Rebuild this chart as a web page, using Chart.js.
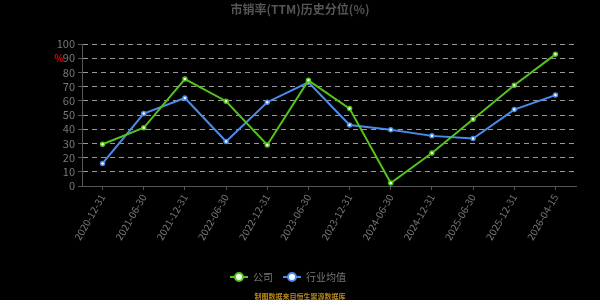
<!DOCTYPE html>
<html>
<head>
<meta charset="utf-8">
<script src="https://cdn.jsdelivr.net/npm/chart.js@4/dist/chart.umd.min.js"></script>
<style>
  html, body { margin: 0; padding: 0; background: #000; }
  #wrap { width: 600px; height: 300px; }
</style>
</head>
<body>
<div id="wrap"><canvas id="psChart"></canvas></div>
<script>
// Data
const dates = [
    "2020-12-31", "2021-06-30", "2021-12-31", "2022-06-30",
    "2022-12-31", "2023-06-30", "2023-12-31", "2024-06-30",
    "2024-12-31", "2025-06-30", "2025-12-31", "2026-04-15"
];
const companyPct = [29.4, 41, 75.3, 59.7, 28.9, 74.4, 54.5, 2.1, 23.2, 47, 70.9, 92.7];
const industryPct = [15.9, 51, 62, 31.3, 59, 73, 43, 39.6, 35.3, 33.4, 53.8, 64];

const GREEN = "rgb(82, 196, 26)";
const BLUE = "rgb(74, 140, 235)";
const FONT = "'Noto Sans CJK SC', 'Noto Sans', sans-serif";

// Legend icon: short line with a hollow circle
function legendIcon(color) {
    let c = document.createElement("canvas");
    c.width = 18; c.height = 12;
    let ctx = c.getContext("2d");
    ctx.strokeStyle = color;
    ctx.lineWidth = 2;
    ctx.beginPath(); ctx.moveTo(0, 6); ctx.lineTo(18, 6); ctx.stroke();
    ctx.fillStyle = "#fff";
    ctx.beginPath(); ctx.arc(9, 6, 4, 0, Math.PI * 2); ctx.fill();
    ctx.stroke();
    return c;
}
const icons = [legendIcon(GREEN), legendIcon(BLUE)];

// Title, red mark on the y axis and source note at the bottom
const extraText = {
    id: "extraText",
    afterDraw(chart) {
        let ctx = chart.ctx;
        ctx.save();
        ctx.textAlign = "center";
        ctx.textBaseline = "middle";
        ctx.font = "bold 12px " + FONT;
        ctx.fillStyle = "#555";
        ctx.fillText("市销率(TTM)历史分位(%)", 300, 9);
        ctx.font = "bold 10px " + FONT;
        ctx.fillStyle = "#d01010";
        ctx.fillText("%", 59, 58);
        ctx.font = "bold 7px " + FONT;
        ctx.fillStyle = "#b8861a";
        ctx.fillText("制图数据来自恒生聚源数据库", 300, 296);
        ctx.restore();
    }
};

let ctx = document.getElementById("psChart").getContext("2d");
let chart = new Chart(ctx, {
    type: "line",
    data: {
        labels: dates,
        datasets: [
            {
                label: "公司",
                data: companyPct,
                borderColor: GREEN,
                backgroundColor: "#fff",
                borderWidth: 2,
                pointRadius: 2,
                pointBorderWidth: 1.5,
                pointBorderColor: GREEN,
                pointBackgroundColor: "#fff",
                tension: 0
            },
            {
                label: "行业均值",
                data: industryPct,
                borderColor: BLUE,
                backgroundColor: "#fff",
                borderWidth: 2,
                pointRadius: 2,
                pointBorderWidth: 1.5,
                pointBorderColor: BLUE,
                pointBackgroundColor: "#fff",
                tension: 0
            }
        ]
    },
    options: {
        responsive: true,
        maintainAspectRatio: false,
        animation: false,
        layout: { padding: { left: 0, right: 24, top: 44, bottom: 8 } },
        scales: {
            x: {
                offset: true,
                afterFit: (s) => { s.height = 76; },
                grid: {
                    display: true,
                    drawOnChartArea: false,
                    drawTicks: true,
                    tickLength: 4,
                    color: "#555"
                },
                border: { display: true, color: "#555" },
                ticks: {
                    color: "#777",
                    font: { size: 10, family: FONT },
                    minRotation: 60,
                    maxRotation: 60,
                    autoSkip: false,
                    padding: 2
                }
            },
            y: {
                min: 0,
                max: 100,
                afterFit: (s) => { s.width = 82; },
                grid: {
                    color: "#999",
                    lineWidth: 1,
                    tickLength: 4,
                    tickColor: "#555"
                },
                border: { display: true, color: "#555", dash: [5, 4] },
                ticks: {
                    color: "#777",
                    stepSize: 10,
                    autoSkip: false,
                    font: { size: 11, family: FONT },
                    padding: 3
                }
            }
        },
        plugins: {
            title: { display: false },
            legend: {
                position: "bottom",
                labels: {
                    usePointStyle: true,
                    pointStyleWidth: 18,
                    color: "#777",
                    font: { size: 10, family: FONT },
                    padding: 10,
                    generateLabels: (chart) => {
                        let items = Chart.defaults.plugins.legend.labels.generateLabels(chart);
                        items.forEach((it, i) => { it.pointStyle = icons[i]; });
                        return items;
                    }
                }
            },
            tooltip: { enabled: false }
        }
    },
    plugins: [extraText]
});
</script>
</body>
</html>
